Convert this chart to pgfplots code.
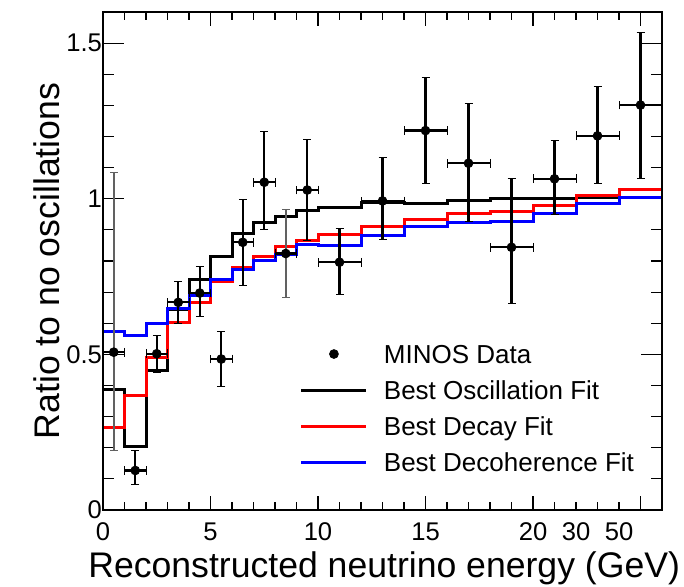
\documentclass[border=0pt]{standalone}
\usepackage{pgfplots}
\usepackage{pgfplotstable}
\pgfplotsset{compat=1.18}
\usepackage{fontspec}
\setmainfont{Liberation Sans}

\pgfplotstableread{
x    y     ex   eyp   eym
0.5  0.507 0.5  0.579 0.314
1.5  0.127 0.5  0.066 0.044
2.5  0.502 0.5  0.060 0.061
3.5  0.667 0.5  0.066 0.066
4.5  0.697 0.5  0.086 0.074
5.5  0.485 0.5  0.089 0.088
6.5  0.860 0.5  0.138 0.138
7.5  1.053 0.5  0.162 0.152
8.5  0.824 0.5  0.143 0.140
9.5  1.028 0.5  0.163 0.162
11   0.796 1    0.108 0.104
13   0.993 1    0.140 0.124
15   1.219 1    0.171 0.171
17   1.114 1    0.191 0.188
19   0.844 1    0.220 0.180
21   1.064 1    0.122 0.115
23   1.202 1    0.160 0.154
25   1.301 1    0.232 0.237
}\datatab

\pgfplotstableread{
x    y     eyp   eym
1.5  0.127 0.066 0.044
2.5  0.502 0.060 0.061
3.5  0.667 0.066 0.066
4.5  0.697 0.086 0.074
5.5  0.485 0.089 0.088
6.5  0.860 0.138 0.138
7.5  1.053 0.162 0.152
9.5  1.028 0.163 0.162
11   0.796 0.108 0.104
13   0.993 0.140 0.124
15   1.219 0.171 0.171
17   1.114 0.191 0.188
19   0.844 0.220 0.180
21   1.064 0.122 0.115
23   1.202 0.160 0.154
25   1.301 0.232 0.237
}\blacky

\pgfplotstableread{
x    y     eyp   eym
0.5  0.507 0.579 0.314
8.5  0.824 0.143 0.140
}\grayy

\begin{document}
\begin{tikzpicture}[x=1pt,y=1pt]
\useasboundingbox (-51.5,-38.5) rectangle (290.5,255);
\pgfplotsset{myaxis/.style={
  width=279.5pt, height=249pt, scale only axis,
  xmin=0, xmax=26, ymin=0, ymax=1.6,
  at={(0,0)}, anchor=south west,
  axis line style={line width=1pt},
  tick style={line width=0.6pt, black},
  /pgf/number format/assume math mode=true,
  ticklabel style={font=\fontsize{12.8}{15}\selectfont},
}}
% axis 1: y ticks, data, labels, legend
\begin{axis}[myaxis,
  xtick=\empty,
  ytick={0,0.5,1,1.5}, yticklabels={0,0.5,1,1.5},
  yticklabel style={xshift=3pt},
  minor y tick num=4,
  major tick length=10.5pt, minor tick length=5.5pt,
  ylabel={Ratio to no oscillations},
  ylabel style={at={(axis description cs:-0.1002,0.5)}, anchor=center, inner sep=0pt, font=\fontsize{17.8}{20}\selectfont},
  xlabel={Reconstructed neutrino energy (GeV)},
  xlabel style={at={(axis description cs:0.503,0)}, anchor=base, yshift=-34pt, inner sep=0pt, font=\fontsize{17.8}{20}\selectfont},
  legend style={at={(axis cs:9.16,0.531)}, anchor=north west, draw=none, fill=none,
    inner sep=0pt, outer sep=0pt, font=\fontsize{13}{15}\selectfont,
    row sep=8.7pt, column sep=8pt,
    nodes={inner sep=0pt, text height=9.3pt, text depth=0pt}},
  legend cell align=left,
  legend image code/.code={\draw[mark repeat=2,mark phase=2,#1] plot coordinates {(0pt,0pt) (16.25pt,0pt) (32.5pt,0pt)};},
]
\addplot[const plot, black, line width=1.5pt, forget plot] coordinates {
(0,0.386) (1,0.204) (2,0.447) (3,0.645) (4,0.739) (5,0.816) (6,0.888) (7,0.923)
(8,0.943) (9,0.963) (10,0.973) (12,0.987) (14,0.985) (16,0.995) (18,1.000)
(20,1.000) (22,1.003) (24,1.004) (26,1.004)};
\addplot[const plot, red, line width=1.5pt, forget plot] coordinates {
(0,0.265) (1,0.369) (2,0.491) (3,0.601) (4,0.667) (5,0.733) (6,0.778) (7,0.813)
(8,0.846) (9,0.866) (10,0.885) (12,0.910) (14,0.932) (16,0.952) (18,0.960)
(20,0.979) (22,1.009) (24,1.029) (26,1.029)};
\addplot[const plot, blue, line width=1.5pt, forget plot] coordinates {
(0,0.574) (1,0.562) (2,0.599) (3,0.647) (4,0.689) (5,0.742) (6,0.772) (7,0.800)
(8,0.822) (9,0.853) (10,0.851) (12,0.882) (14,0.910) (16,0.923) (18,0.926)
(20,0.954) (22,0.985) (24,1.004) (26,1.004)};
% y errors
\addplot[draw=none, mark=none, forget plot, black,
  error bars/.cd, y dir=both, y explicit,
  error bar style={line width=1.1pt, black}]
  table[x=x, y=y, y error plus=eyp, y error minus=eym] {\blacky};
\addplot[draw=none, mark=none, forget plot,
  error bars/.cd, y dir=both, y explicit,
  error bar style={line width=1.1pt, black!62}, error mark options={black!62, rotate=90}]
  table[x=x, y=y, y error plus=eyp, y error minus=eym] {\grayy};
% x errors + markers
\addplot[only marks, mark=*, mark size=2.2pt, black, forget plot,
  error bars/.cd, x dir=both, x explicit,
  error bar style={line width=1.1pt, black}]
  table[x=x, y=y, x error=ex] {\datatab};

\addlegendimage{only marks, mark=*, mark size=2.2pt, black}
\addlegendentry{MINOS Data}
\addlegendimage{black, line width=1.5pt}
\addlegendentry{Best Oscillation Fit}
\addlegendimage{red, line width=1.5pt}
\addlegendentry{Best Decay Fit}
\addlegendimage{blue, line width=1.5pt}
\addlegendentry{Best Decoherence Fit}
\end{axis}
% axis 2: x ticks
\begin{axis}[myaxis,
  ytick=\empty,
  xtick={0,5,10,15,20,25}, xticklabels={0,5,10,15,20,{}},
  minor x tick num=4,
  major tick length=7pt, minor tick length=3.8pt,
  xticklabel style={yshift=-3pt},
  extra x ticks={22,24}, extra x tick labels={30,50},
  extra x tick style={tick style={draw=none}},
]
\end{axis}
\end{tikzpicture}
\end{document}
